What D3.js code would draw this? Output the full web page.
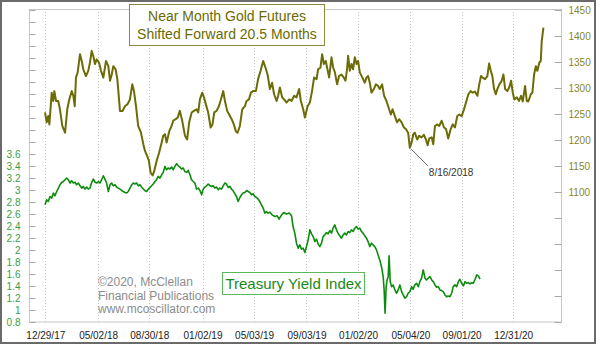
<!DOCTYPE html>
<html><head><meta charset="utf-8">
<script src="https://cdn.jsdelivr.net/npm/d3@7"></script>
<style>
html,body{margin:0;padding:0;background:#fff;}
svg{display:block;font-family:"Liberation Sans",Arial,sans-serif;}
</style></head>
<body><svg id="c" width="600" height="346"></svg>
<script>
// ---- Data (dates as decimal years) ----
const goldDates = [
2017.990,2018.001,2018.011,2018.018,2018.033,2018.043,2018.050,2018.061,2018.075,2018.086,
2018.101,2018.119,2018.133,2018.146,2018.162,2018.172,2018.181,2018.189,2018.200,2018.215,
2018.226,2018.236,2018.253,2018.268,2018.279,2018.290,2018.300,2018.311,2018.322,2018.337,
2018.350,2018.365,2018.382,2018.397,2018.408,2018.419,2018.429,2018.444,2018.455,2018.472,
2018.489,2018.504,2018.521,2018.536,2018.551,2018.562,2018.575,2018.589,2018.607,2018.622,
2018.633,2018.647,2018.658,2018.669,2018.682,2018.692,2018.708,2018.724,2018.740,2018.750,
2018.761,2018.772,2018.789,2018.804,2018.814,2018.830,2018.843,2018.857,2018.872,2018.890,
2018.904,2018.917,2018.933,2018.947,2018.965,2018.975,2018.986,2019.001,2019.012,2019.024,
2019.039,2019.055,2019.067,2019.078,2019.093,2019.108,2019.121,2019.136,2019.147,2019.161,
2019.174,2019.190,2019.204,2019.217,2019.228,2019.243,2019.258,2019.275,2019.286,2019.301,
2019.314,2019.328,2019.346,2019.360,2019.376,2019.393,2019.408,2019.421,2019.436,2019.450,
2019.463,2019.479,2019.489,2019.500,2019.515,2019.528,2019.543,2019.560,2019.575,2019.592,
2019.607,2019.624,
2019.635,2019.650,2019.661,2019.678,2019.693,2019.707,2019.720,2019.736,2019.746,2019.761,
2019.772,2019.783,2019.795,2019.804,2019.817,2019.832,2019.843,2019.854,2019.868,2019.881,
2019.896,2019.911,2019.922,2019.932,2019.939,2019.950,2019.961,2019.971,2019.982,2019.993,
2020.003,2020.014,2020.031,2020.046,2020.057,2020.067,2020.078,2020.089,2020.104,2020.117,
2020.131,2020.142,2020.157,2020.170,2020.185,2020.202,2020.213,2020.224,2020.239,2020.253,
2020.266,2020.282,2020.297,2020.309,2020.324,2020.335,2020.346,2020.357,2020.367,2020.382,
2020.395,2020.410,2020.425,2020.438,2020.449,2020.459,2020.475,2020.485,2020.496,2020.511,
2020.523,2020.539,2020.554,2020.567,2020.581,2020.597,2020.610,2020.624,2020.639,2020.652,
2020.667,2020.682,2020.695,2020.710,2020.725,2020.738,2020.753,2020.768,2020.780,2020.791,
2020.802,2020.817,2020.832,2020.843,2020.854,2020.864,2020.875,2020.886,2020.896,2020.909,
2020.924,2020.935,2020.946,2020.960,2020.973,2020.984,2020.995,2021.005,2021.021,2021.035,
2021.048,2021.059,2021.074,2021.085,2021.095,2021.111,2021.121,2021.132,2021.143,2021.153,
2021.166,2021.175,2021.181,2021.192];
const goldValues = [
1253,1234,1246,1230,1291,1275,1294,1275,1275,1259,
1227,1214,1259,1278,1294,1285,1265,1320,1330,1365,
1352,1336,1323,1333,1349,1371,1362,1346,1355,1349,
1333,1320,1352,1342,1314,1326,1342,1336,1317,1256,
1256,1265,1269,1278,1307,1294,1265,1227,1214,1192,
1179,1169,1160,1137,1132,1140,1160,1176,1195,1208,
1211,1195,1217,1227,1237,1240,1243,1256,1237,1208,
1201,1234,1253,1256,1259,1253,1278,1291,1282,1269,
1253,1224,1230,1253,1256,1265,1278,1294,1275,1256,
1249,1240,1230,1217,1214,1227,1259,1265,1275,1278,
1291,1294,1294,1317,1333,1352,1339,1326,1298,1310,
1288,1275,1285,1301,1282,1278,1272,1278,1275,1285,
1282,1298,
1275,1259,1243,1265,1272,1294,1320,1317,1336,1339,
1365,1346,1352,1339,1320,1359,1339,1330,1307,1323,
1326,1320,1314,1336,1362,1333,1346,1336,1359,1346,
1352,1330,1320,1310,1320,1323,1310,1291,1298,1307,
1304,1298,1307,1285,1275,1259,1249,1259,1246,1234,
1240,1234,1224,1221,1214,1185,1195,1211,1214,1201,
1208,1205,1210,1201,1190,1203,1205,1192,1227,1230,
1227,1237,1224,1221,1203,1221,1230,1224,1246,1249,
1246,1259,1272,1288,1294,1291,1293,1285,1307,1323,
1320,1317,1323,1347,1333,1323,1298,1288,1298,1307,
1314,1326,1298,1294,1302,1314,1291,1278,1282,1275,
1285,1274,1304,1275,1274,1288,1291,1326,1342,1333,
1349,1352,1390,1416];

const tyiDates = [
2017.990,2018.001,2018.011,2018.022,2018.033,2018.044,2018.054,2018.065,2018.076,2018.086,
2018.097,2018.108,2018.118,2018.129,2018.140,2018.151,2018.161,2018.172,2018.183,2018.193,
2018.204,2018.215,2018.226,2018.236,2018.247,2018.258,2018.268,2018.279,2018.290,2018.301,
2018.311,2018.322,2018.333,2018.343,2018.354,2018.365,2018.375,2018.386,2018.397,2018.408,
2018.418,2018.429,2018.440,2018.450,2018.461,2018.472,2018.483,2018.493,2018.504,2018.515,
2018.525,2018.536,2018.547,2018.558,2018.568,2018.579,2018.590,2018.600,2018.611,2018.622,
2018.632,2018.643,2018.654,2018.665,2018.675,2018.686,2018.697,2018.707,2018.718,2018.729,
2018.740,2018.750,2018.761,2018.772,2018.782,2018.793,2018.804,2018.815,2018.825,2018.836,
2018.847,2018.857,2018.868,2018.879,2018.889,2018.900,2018.911,2018.922,2018.932,2018.943,
2018.954,2018.964,2018.975,2018.986,2018.997,2019.007,2019.018,2019.029,2019.039,2019.050,
2019.061,2019.071,2019.082,2019.093,2019.104,2019.114,2019.125,2019.136,2019.146,2019.157,
2019.168,2019.179,2019.189,2019.200,2019.211,2019.221,2019.232,2019.243,2019.254,2019.264,
2019.275,2019.286,2019.296,2019.307,2019.318,2019.328,2019.339,2019.350,2019.361,2019.371,
2019.382,2019.393,2019.403,2019.414,2019.425,2019.436,
2019.450,2019.468,2019.483,2019.495,2019.511,2019.526,2019.543,2019.560,2019.575,2019.585,
2019.596,2019.607,2019.618,2019.628,2019.639,2019.650,2019.661,2019.671,2019.682,2019.693,
2019.704,2019.714,2019.725,2019.736,2019.746,2019.757,2019.768,2019.778,2019.789,2019.800,
2019.810,2019.821,2019.832,2019.842,2019.853,2019.864,2019.874,2019.885,2019.896,2019.907,
2019.918,2019.928,2019.939,2019.950,2019.960,2019.971,2019.982,2019.993,2020.003,2020.014,
2020.025,2020.035,2020.046,2020.057,2020.067,2020.078,2020.089,2020.099,2020.110,2020.121,
2020.131,2020.142,2020.153,2020.164,2020.170,2020.176,2020.183,2020.189,2020.196,2020.202,
2020.209,2020.218,2020.228,2020.239,2020.250,2020.260,2020.271,2020.282,2020.292,2020.303,
2020.314,2020.324,2020.335,2020.346,2020.356,2020.367,2020.378,2020.389,2020.399,2020.410,
2020.421,2020.432,2020.442,2020.453,2020.464,2020.475,2020.485,2020.496,2020.507,2020.517,
2020.528,2020.539,2020.549,2020.560,2020.571,2020.581,2020.592,2020.603,2020.613,2020.624,
2020.635,2020.646,2020.656,2020.667,2020.678,2020.689,2020.699,2020.710,2020.721,2020.732,
2020.742,2020.753,2020.764,2020.774,2020.785];
const tyiValues = [
2.753,2.837,2.808,2.892,2.865,2.949,2.904,2.975,3.032,3.087,
3.126,3.142,3.171,3.199,3.171,3.116,3.154,3.116,3.132,3.087,
3.116,3.070,3.032,3.059,3.015,3.049,3.015,3.032,3.126,3.182,
3.132,3.116,3.142,3.116,3.171,3.237,3.182,3.116,2.975,3.087,
3.116,3.070,3.087,3.049,3.032,3.015,2.992,2.975,2.959,2.949,
2.975,3.032,3.087,3.116,3.099,3.116,3.070,3.087,3.049,3.015,
2.992,2.975,3.015,3.042,3.070,3.099,3.142,3.171,3.226,3.199,
3.254,3.293,3.393,3.337,3.366,3.349,3.383,3.337,3.393,3.438,
3.404,3.383,3.349,3.366,3.309,3.293,3.326,3.254,3.171,3.142,
3.116,3.015,3.032,2.992,2.920,3.015,3.049,3.070,3.099,3.076,
3.059,3.070,3.032,3.049,3.004,3.032,3.015,3.070,3.116,3.099,
3.042,3.059,3.015,2.987,2.937,2.892,2.808,2.875,2.920,2.949,
2.959,2.992,2.975,2.959,2.920,2.937,2.892,2.875,2.848,2.808,
2.753,2.698,2.615,2.641,2.615,2.631,
2.586,2.558,2.570,2.515,2.586,2.625,2.598,2.615,2.570,2.391,
2.281,2.114,2.030,2.085,2.014,2.030,1.957,2.057,2.169,2.336,
2.269,2.224,2.141,2.181,2.102,2.057,2.114,2.224,2.252,2.291,
2.269,2.324,2.281,2.364,2.419,2.336,2.281,2.236,2.197,2.252,
2.281,2.252,2.308,2.291,2.336,2.308,2.364,2.391,2.348,2.364,
2.308,2.281,2.236,2.197,2.141,2.057,2.114,2.085,2.057,2.002,
1.919,1.835,1.723,1.556,1.334,0.945,1.389,1.501,1.556,1.902,
1.473,1.389,1.418,1.334,1.279,1.334,1.418,1.306,1.251,1.196,
1.222,1.279,1.306,1.389,1.346,1.418,1.446,1.389,1.473,1.530,
1.668,1.530,1.501,1.530,1.556,1.501,1.473,1.418,1.379,1.389,
1.334,1.323,1.306,1.251,1.222,1.234,1.222,1.279,1.389,1.418,
1.389,1.473,1.513,1.446,1.401,1.473,1.446,1.456,1.434,1.456,
1.446,1.513,1.585,1.568,1.513];

const xTickLabels = ["12/29/17","05/02/18","08/30/18","01/02/19","05/03/19","09/03/19","01/02/20","05/04/20","09/01/20","12/31/20"];
const leftTicks = d3.range(4, 31).map(i => i / 5);      // 0.8 .. 6.0
const leftLabelMax = 3.6;
const rightTicks = d3.range(850, 1451, 50);
const rightLabelMin = 1100;
const titleLines = ["Near Month Gold Futures", "Shifted Forward 20.5 Months"];
const tyiLabel = "Treasury Yield Index";
const creditLines = ["\u00a92020, McClellan", "Financial Publications", "www.mcoscillator.com"];
const annotationText = "8/16/2018";

// ---- helpers ----
function toDate(t) {
  const y = Math.floor(t);
  const s = Date.UTC(y, 0, 1), e = Date.UTC(y + 1, 0, 1);
  return new Date(s + (t - y) * (e - s));
}
const parseTick = d3.utcParse("%m/%d/%y");
const tickDates = xTickLabels.map(parseTick);

const gold = goldDates.map((t, i) => ({d: toDate(t), v: goldValues[i]}));
const tyi = tyiDates.map((t, i) => ({d: toDate(t), v: tyiValues[i]}));

// ---- layout ----
const L = 29, R = 561, T = 10, B = 322;
const x = d3.scaleUtc().domain([toDate(2017.887), toDate(2021.305)]).range([L, R]);
const yL = d3.scaleLinear().domain([0.8, 6.0]).range([B, T]);
const yR = d3.scaleLinear().domain([850, 1450]).range([B, T]);

const svg = d3.select("#c");
svg.append("rect").attr("width", 600).attr("height", 346).attr("fill", "#fff");

// vertical dotted gridlines
svg.append("g").selectAll("line").data(tickDates).join("line")
  .attr("x1", d => Math.round(x(d)) + 0.5).attr("x2", d => Math.round(x(d)) + 0.5)
  .attr("y1", T - 1).attr("y2", B)
  .attr("stroke", "#c4c4c4").attr("stroke-dasharray", "1,2");

// plot frame
svg.append("rect").attr("x", L + 0.5).attr("y", T - 0.5).attr("width", R - L).attr("height", B - T + 0.5)
  .attr("fill", "none").attr("stroke", "#c8c8c8");

// left axis
const gl = svg.append("g").attr("transform", `translate(${L + 0.5},0)`)
  .call(d3.axisLeft(yL).tickValues(leftTicks).tickSizeInner(-6).tickSizeOuter(0).tickPadding(9)
    .tickFormat(v => v <= leftLabelMax + 1e-9 ? String(v) : ""));
gl.select(".domain").remove();
gl.selectAll(".tick line").attr("stroke", "#a8a8a8");
gl.selectAll("text").attr("fill", "#3d9d3d").attr("font-size", 10).attr("font-family", "Liberation Sans, Arial, sans-serif");

// right axis
const gr = svg.append("g").attr("transform", `translate(${R + 0.5},0)`)
  .call(d3.axisRight(yR).tickValues(rightTicks).tickSizeInner(-7).tickSizeOuter(0).tickPadding(7)
    .tickFormat(v => v >= rightLabelMin ? String(v) : ""));
gr.select(".domain").remove();
gr.selectAll(".tick line").attr("stroke", "#a8a8a8");
gr.selectAll("text").attr("fill", "#86862a").attr("font-size", 10).attr("font-family", "Liberation Sans, Arial, sans-serif");

// bottom axis
const gb = svg.append("g").attr("transform", `translate(0,${B})`)
  .call(d3.axisBottom(x).tickValues(tickDates).tickSize(0).tickPadding(10)
    .tickFormat(d3.utcFormat("%m/%d/%y")));
gb.select(".domain").remove();
gb.selectAll("text").attr("fill", "#222").attr("font-size", 10).attr("font-family", "Liberation Sans, Arial, sans-serif");

// lines
const lineL = d3.line().x(d => x(d.d)).y(d => yL(d.v));
const lineR = d3.line().x(d => x(d.d)).y(d => yR(d.v));
svg.append("path").datum(tyi).attr("d", lineL).attr("fill", "none")
  .attr("stroke", "#0c8c0c").attr("stroke-width", 1.6).attr("stroke-linejoin", "round");
svg.append("path").datum(gold).attr("d", lineR).attr("fill", "none")
  .attr("stroke", "#6c6c06").attr("stroke-width", 2).attr("stroke-linejoin", "round");

// annotation at gold low
const low = gold.filter(p => p.d > toDate(2020.2) && p.d < toDate(2020.45))
  .reduce((a, b) => (b.v < a.v ? b : a));
const ax = x(low.d), ay = yR(low.v);
svg.append("line").attr("x1", ax + 1).attr("y1", ay + 1).attr("x2", ax + 18).attr("y2", ay + 18)
  .attr("stroke", "#444").attr("stroke-width", 0.8);
svg.append("text").attr("x", ax + 19).attr("y", ay + 28).attr("font-size", 10).attr("fill", "#333")
  .text(annotationText);

// title box
svg.append("rect").attr("x", 129.5).attr("y", 4.5).attr("width", 195).attr("height", 41)
  .attr("fill", "#fff").attr("stroke", "#8a8a3c");
svg.append("g").selectAll("text").data(titleLines).join("text")
  .attr("x", 227).attr("y", (d, i) => 20.5 + i * 18).attr("text-anchor", "middle")
  .attr("font-size", 14).attr("fill", "#6b6b00").text(d => d);

// treasury label box
svg.append("rect").attr("x", 222.5).attr("y", 272.5).attr("width", 142).attr("height", 22)
  .attr("fill", "#fff").attr("stroke", "#5cb85c");
svg.append("text").attr("x", 293.5).attr("y", 289).attr("text-anchor", "middle")
  .attr("font-size", 15).attr("fill", "#178a17").text(tyiLabel);

// credits
svg.append("g").selectAll("text").data(creditLines).join("text")
  .attr("x", 98).attr("y", (d, i) => 286 + i * 13.5)
  .attr("font-size", 12).attr("fill", "#8c8c8c").text(d => d);

// outer border
svg.append("rect").attr("x", 1).attr("y", 1).attr("width", 594).attr("height", 342)
  .attr("fill", "none").attr("stroke", "#6a6a6a").attr("stroke-width", 2);
</script>
</body></html>
